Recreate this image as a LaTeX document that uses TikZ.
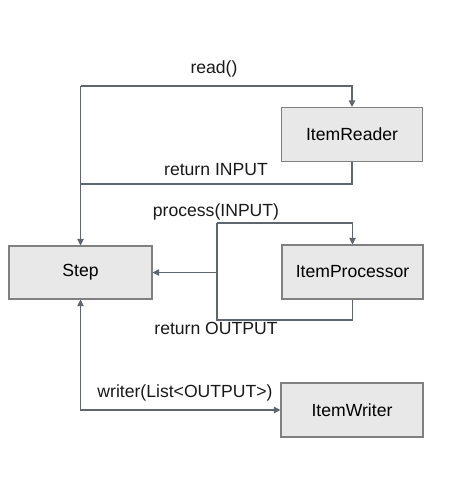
\documentclass[tikz,border=0pt]{standalone}
\usepackage{fontspec}
\setmainfont{Liberation Sans}
\usetikzlibrary{arrows.meta}
\definecolor{linec}{HTML}{5F6670}
\definecolor{boxborder}{HTML}{808080}
\definecolor{boxfill}{HTML}{E8E8E8}
\tikzset{
  box/.style={draw=boxborder, fill=boxfill, line width=1.1pt, minimum width=141pt, minimum height=54pt, inner sep=0pt, font=\fontsize{17.6}{20}\selectfont},
  conn/.style={draw=linec, line width=1.1pt},
  arr/.style={conn, -{Triangle[length=6.5pt,width=6.5pt]}},
  biarr/.style={conn, {Triangle[length=6.5pt,width=6.5pt]}-{Triangle[length=6.5pt,width=6.5pt]}},
  lbl/.style={font=\fontsize{17.6}{20}\selectfont, inner sep=0pt, text=black!90}
}
\begin{document}
\begin{tikzpicture}[x=1pt,y=-1pt]
\useasboundingbox (0,0) rectangle (451,493);
\node[box, minimum width=143pt, minimum height=53pt] (step) at (80.5,272.5) {Step};
\node[box] (reader) at (352,134.5) {ItemReader};
\node[box] (proc) at (352.5,272) {ItemProcessor};
\node[box, minimum width=142pt] (writer) at (352,410) {ItemWriter};
\coordinate (rtop) at (80.5,86);
\coordinate (rbot) at (80.5,184);
\coordinate (ptop) at (217,223);
\coordinate (pbot) at (217,320);
% read loop
\draw[arr] (rtop) -| (reader.north);
\draw[conn] (rtop) -- (rbot);
\draw[arr] (reader.south) |- (rbot) -- (step.north);
% process loop
\draw[arr] (ptop) -| (proc.north);
\draw[conn] (proc.south) |- (pbot) -- (ptop);
\draw[arr] (step.east -| ptop) -- (step.east);
% writer
\draw[biarr] (step.south) |- (writer.west);
% labels
\node[lbl] (l1) at (214,69) {read()};
\node[lbl] (l2) at (216,170) {return INPUT};
\node[lbl] (l3) at (216,212) {process(INPUT)};
\node[lbl] (l4) at (216,328) {return OUTPUT};
\node[lbl] (l5) at (185,393) {writer(List<OUTPUT>)};
\end{tikzpicture}
\end{document}
